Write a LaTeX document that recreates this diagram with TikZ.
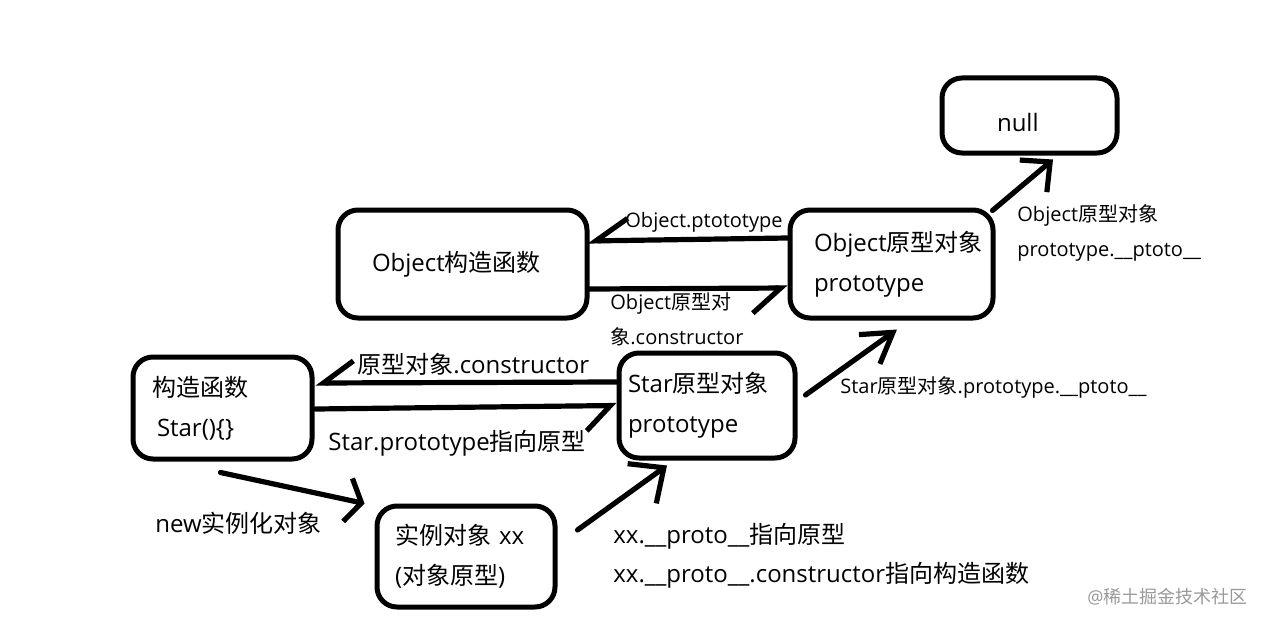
\documentclass[tikz,border=0pt]{standalone}
\usepackage{fontspec}
\setmainfont{Open Sans}
\newfontfamily\zh{Noto Sans CJK SC}
\usetikzlibrary{calc,arrows.meta}

\begin{document}
\begin{tikzpicture}[x=0.5pt, y=-0.5pt,
	box/.style={draw, line width=2.5pt, rounded corners=10pt, align=left, inner ysep=0pt, font=\fontsize{12}{20}\selectfont},
	lbl/.style={anchor=west, inner sep=0pt, align=left, font=\fontsize{12}{19.5}\selectfont},
	smalllbl/.style={lbl, font=\fontsize{10}{17.5}\selectfont},
	link/.style={line width=2.6pt, line cap=round}]
			%%%%% START %%%%%
			
			\useasboundingbox (0, 0) rectangle (1267, 626);
			
			% boxes
			\node[box, minimum width=87.5pt, minimum height=37.5pt, inner xsep=27.5pt, text width=32.5pt, text height=16pt] (null) at (1029.5, 115.5) {null};
			\node[box, minimum width=124.5pt, minimum height=54pt, inner xsep=17pt, text width=90.5pt] (objc) at (462.5, 264) {Object{\zh 构造函数}};
			\node[box, minimum width=101.5pt, minimum height=54pt, inner xsep=12pt, text width=77.5pt] (objp) at (891.5, 264) {Object{\zh 原型对象}\\prototype};
			\node[box, minimum width=89.5pt, minimum height=51pt, inner xsep=9.5pt, text width=70.5pt] (ctor) at (222.5, 408) {{\zh 构造函数}\\\hspace*{2.5pt}Star()\{\}};
			\node[box, minimum width=88pt, minimum height=52.5pt, inner xsep=4.5pt, text width=79pt] (star) at (707, 405.5) {Star{\zh 原型对象}\\prototype};
			\node[box, minimum width=89pt, minimum height=50.5pt, inner xsep=9pt, text width=71pt] (inst) at (466, 556.5) {{\zh 实例对象} xx\\({\zh 对象原型})};
			
			% labels
			\node[smalllbl] (objproto) at (625, 222) {Object.ptototype};
			\node[smalllbl] (objcons) at (610, 319.5) {Object{\zh 原型对}\\{\zh 象}.constructor};
			\node[lbl] (starcons) at (357, 364) {{\zh 原型对象}.constructor};
			\node[lbl] (starproto) at (328, 443) {Star.prototype{\zh 指向原型}};
			\node[lbl] (newlbl) at (155, 523) {new{\zh 实例化对象}};
			\node[lbl] (xxlbl) at (613, 555.5) {xx.\_\_proto\_\_{\zh 指向原型}\\xx.\_\_proto\_\_.constructor{\zh 指向构造函数}};
			\node[smalllbl] (starup) at (840, 387) {Star{\zh 原型对象}.prototype.\_\_ptoto\_\_};
			\node[smalllbl] (objup) at (1017, 232.5) {Object{\zh 原型对象}\\prototype.\_\_ptoto\_\_};
			\node[anchor=west, inner sep=0pt, text=black!40, font=\fontsize{9}{9}\selectfont] (mark) at (1087, 597) {@{\zh 稀土掘金技术社区}};
			
			% links
			\draw[link, -{Straight Barb[right, length=16pt, width=22pt]}] ($(objp.west)+(0,-26)$) -- ($(objc.east)+(-2,-23)$);
			\draw[link, -{Straight Barb[right, length=14pt, width=25pt]}] ($(objc.east)+(0,25)$) -- ($(objp.west)+(0,24)$);
			\draw[link, -{Straight Barb[right, length=15pt, width=22pt]}] ($(star.west)+(0,-23.5)$) -- ($(ctor.east)+(1,-25)$);
			\draw[link, -{Straight Barb[right, length=12pt, width=25pt]}] ($(ctor.east)+(1,1)$) -- (star.west);
			
			\draw[link, -{Straight Barb[length=7pt, width=22pt]}] ($(ctor.south)+(-2,11)$) -- ($(inst.north west)+(-10,0)$);
			\draw[link, -{Straight Barb[length=13.5pt, width=24.5pt]}] ($(inst.east)+(20,-26.5)$) -- ($(star.south)+(-40,5)$);
			\draw[link, -{Straight Barb[length=14.5pt, width=18pt]}] ($(star.east)+(8,-10.5)$) -- ($(objp.south)+(5.5,9)$);
			\draw[link, -{Straight Barb[length=11pt, width=21pt]}] ($(objp.north east)+(-3,3)$) -- ($(null.south)+(23.5,4)$);
			
			%%%%% END %%%%%
\end{tikzpicture}
\end{document}
